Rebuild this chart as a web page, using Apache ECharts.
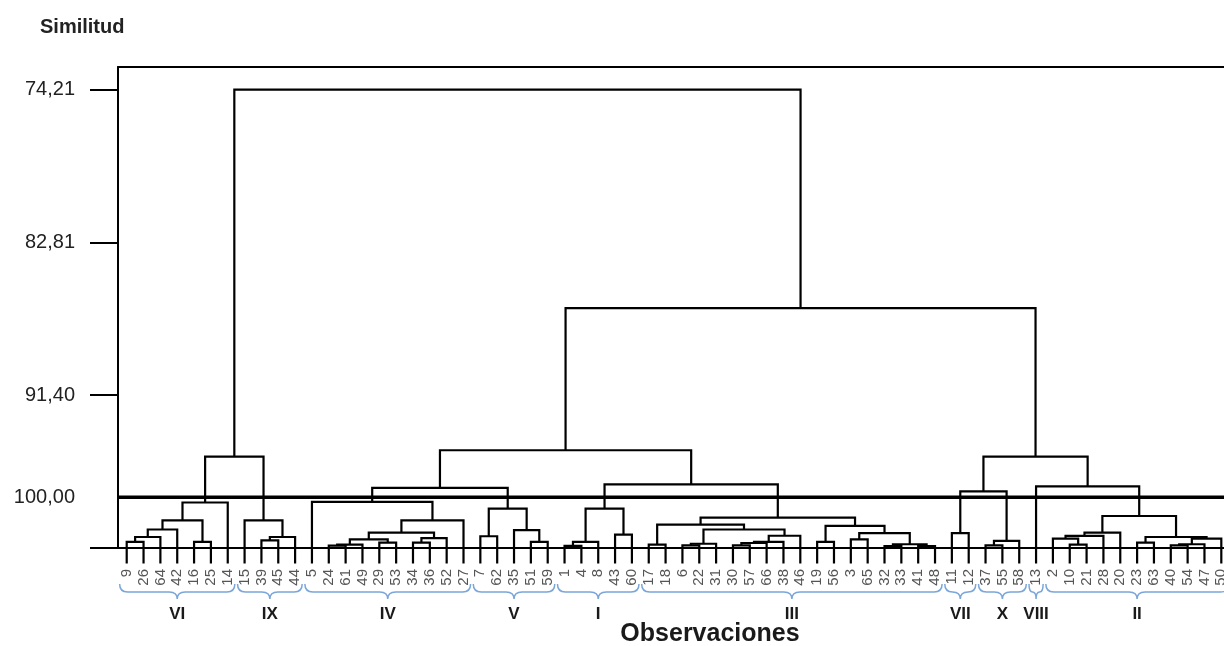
<!DOCTYPE html>
<html>
<head>
<meta charset="utf-8">
<title>Dendrograma</title>
<script src="https://cdn.jsdelivr.net/npm/echarts@6/dist/echarts.min.js"></script>
<style>
  html, body { margin: 0; padding: 0; background: #fff; overflow: hidden; }
  #chart { width: 1224px; height: 646px; }
</style>
</head>
<body>
<div id="chart"></div>
<script>
// observaciones en el orden del dendrograma (izquierda a derecha)
const leafLabels = [
  '9', '26', '64', '42', '16', '25', '14',
  '15', '39', '45', '44',
  '5', '24', '61', '49', '29', '53', '34', '36', '52', '27',
  '7', '62', '35', '51', '59',
  '1', '4', '8', '43', '60',
  '17', '18', '6', '22', '31', '30', '57', '66', '38', '46', '19', '56', '3', '65', '32', '33', '41', '48',
  '11', '12',
  '37', '55', '58',
  '13',
  '2', '10', '21', '28', '20', '23', '63', '40', '54', '47', '50'
];

// uniones: [nodo izquierdo, nodo derecho, similitud]
// hojas = 0..65, la union k crea el nodo 66 + k
const merges = [
  [0, 1, 99.66], [66, 2, 99.38], [67, 3, 98.96], [4, 5, 99.66], [68, 69, 98.45], [70, 6, 97.44],
  [8, 9, 99.57], [72, 10, 99.38], [7, 73, 98.45], [71, 74, 94.86],
  [12, 13, 99.87], [76, 14, 99.81], [15, 16, 99.70], [77, 78, 99.51], [17, 18, 99.70], [80, 19, 99.44],
  [79, 81, 99.13], [82, 20, 98.45], [11, 83, 97.41],
  [21, 22, 99.34], [24, 25, 99.66], [23, 86, 99.00], [85, 87, 97.78],
  [84, 88, 96.62],
  [26, 27, 99.88], [90, 28, 99.66], [29, 30, 99.25], [91, 92, 97.78],
  [31, 32, 99.81], [33, 34, 99.85], [95, 35, 99.76], [36, 37, 99.85], [97, 38, 99.72], [98, 39, 99.66],
  [99, 40, 99.31], [96, 100, 98.96], [94, 101, 98.69], [41, 42, 99.66], [43, 44, 99.51], [45, 46, 99.90],
  [47, 48, 99.90], [105, 106, 99.79], [104, 107, 99.16], [103, 108, 98.76], [102, 109, 98.29],
  [93, 110, 96.42],
  [89, 111, 94.50],
  [49, 50, 99.16],
  [51, 52, 99.85], [114, 53, 99.60],
  [113, 115, 96.81],
  [56, 57, 99.81], [55, 117, 99.47], [118, 58, 99.32], [119, 59, 99.13], [60, 61, 99.70], [62, 63, 99.85],
  [122, 64, 99.79], [123, 65, 99.47], [121, 124, 99.38], [120, 125, 98.20],
  [54, 126, 96.53],
  [116, 127, 94.86],
  [112, 128, 86.51],
  [75, 129, 74.21]
];

// grupos (primera y ultima hoja de cada uno)
const groupNames = ['VI', 'IX', 'IV', 'V', 'I', 'III', 'VII', 'X', 'VIII', 'II'];
const groupFirst = [0, 7, 11, 21, 26, 31, 49, 51, 54, 55];
const groupLast = [6, 10, 20, 25, 30, 48, 50, 53, 54, 65];

const yTicks = [74.21, 82.81, 91.40, 100];
const cutLevel = 97.15;   // linea de corte
const cutLabel = '100,00';

const leafBottom = 100.87; // las hojas bajan un poco por debajo del eje
const FONT = '"Liberation Sans", Arial, Helvetica, sans-serif';
const X_MIN = -0.517, X_MAX = 65.16;

// posiciones de los nodos
const nodeX = leafLabels.map((_, i) => i);
const nodeH = leafLabels.map(() => leafBottom);
merges.forEach(([a, b, h]) => {
  nodeX.push((nodeX[a] + nodeX[b]) / 2);
  nodeH.push(h);
});
const links = merges.map(([a, b, h]) => [nodeX[a], nodeH[a], nodeX[b], nodeH[b], h]);
const groups = groupNames.map((n, i) => [groupFirst[i], groupLast[i], i]);

const chart = echarts.init(document.getElementById('chart'));

chart.setOption({
  animation: false,
  backgroundColor: '#fff',
  title: {
    text: 'Similitud',
    left: 35,
    top: 12,
    textStyle: { fontSize: 20, fontWeight: 'bold', color: '#222', fontFamily: FONT }
  },
  grid: { left: 118, right: 0, top: 67, bottom: 98, containLabel: false, outerBoundsMode: 'none' },
  xAxis: [
    {
      type: 'value',
      min: X_MIN,
      max: X_MAX,
      splitLine: { show: false },
      axisLine: { show: true, onZero: false, lineStyle: { color: '#000', width: 2 } },
      axisTick: { show: false },
      axisLabel: {
        customValues: leafLabels.map((_, i) => i),
        formatter: v => leafLabels[v],
        rotate: 90,
        margin: 21,
        fontSize: 15,
        color: '#555',
        fontFamily: FONT
      }
    },
    {
      type: 'value',
      position: 'top',
      min: X_MIN,
      max: X_MAX,
      splitLine: { show: false },
      axisLine: { show: true, onZero: false, lineStyle: { color: '#000', width: 2 } },
      axisTick: { show: false },
      axisLabel: { show: false }
    }
  ],
  yAxis: {
    type: 'value',
    inverse: true,
    min: 72.94,
    max: 100,
    splitLine: { show: false },
    axisLine: { show: true, onZero: false, lineStyle: { color: '#000', width: 2 } },
    axisTick: { show: true, customValues: yTicks, length: 28, lineStyle: { color: '#000', width: 2 } },
    axisLabel: {
      customValues: yTicks.slice(0, 3).concat([cutLevel]),
      formatter: v => (v === cutLevel ? cutLabel : v.toFixed(2).replace('.', ',')),
      margin: 43,
      fontSize: 20,
      color: '#222',
      fontFamily: FONT
    }
  },
  graphic: [
    {
      type: 'text',
      x: 710,
      y: 634,
      style: {
        text: 'Observaciones',
        align: 'center',
        verticalAlign: 'middle',
        fill: '#1a1a1a',
        font: 'bold 25px ' + FONT
      }
    }
  ],
  series: [
    {
      type: 'custom',
      name: 'dendrograma',
      silent: true,
      encode: { x: [0, 2], y: [1, 3, 4] },
      data: links,
      renderItem: function (params, api) {
        const p1 = api.coord([api.value(0), api.value(1)]);
        const p2 = api.coord([api.value(0), api.value(4)]);
        const p3 = api.coord([api.value(2), api.value(4)]);
        const p4 = api.coord([api.value(2), api.value(3)]);
        return {
          type: 'polyline',
          shape: { points: [p1, p2, p3, p4] },
          style: { stroke: '#000', lineWidth: 2.2, fill: null }
        };
      }
    },
    {
      type: 'line',
      name: 'corte',
      silent: true,
      symbol: 'none',
      data: [[X_MIN, cutLevel], [X_MAX, cutLevel]],
      lineStyle: { color: '#000', width: 3.5 }
    },
    {
      type: 'custom',
      name: 'grupos',
      silent: true,
      encode: { x: [0, 1] },
      data: groups,
      renderItem: function (params, api) {
        const first = api.value(0), last = api.value(1);
        const idx = api.value(2);
        const yb = api.coord([first, 100])[1];
        const x0 = api.coord([first - 0.42, 100])[0];
        const x1 = api.coord([last + 0.42, 100])[0];
        const xc = api.coord([(first + last) / 2, 100])[0];
        const y0 = yb + 36, y1 = yb + 44, y2 = yb + 51;
        const r = Math.min(8, (x1 - x0) / 4);
        const d = 'M' + x0 + ',' + y0 +
          ' Q' + x0 + ',' + y1 + ' ' + (x0 + r) + ',' + y1 +
          ' L' + (xc - r) + ',' + y1 +
          ' Q' + xc + ',' + y1 + ' ' + xc + ',' + y2 +
          ' Q' + xc + ',' + y1 + ' ' + (xc + r) + ',' + y1 +
          ' L' + (x1 - r) + ',' + y1 +
          ' Q' + x1 + ',' + y1 + ' ' + x1 + ',' + y0;
        return {
          type: 'group',
          children: [
            {
              type: 'path',
              shape: { pathData: d },
              style: { stroke: '#7aa6da', lineWidth: 1.5, fill: null }
            },
            {
              type: 'text',
              style: {
                text: groupNames[idx],
                x: xc,
                y: yb + 66,
                align: 'center',
                verticalAlign: 'middle',
                fill: '#1a1a1a',
                font: 'bold 17px ' + FONT
              }
            }
          ]
        };
      }
    }
  ]
});

window.addEventListener('resize', () => chart.resize());
</script>
</body>
</html>
